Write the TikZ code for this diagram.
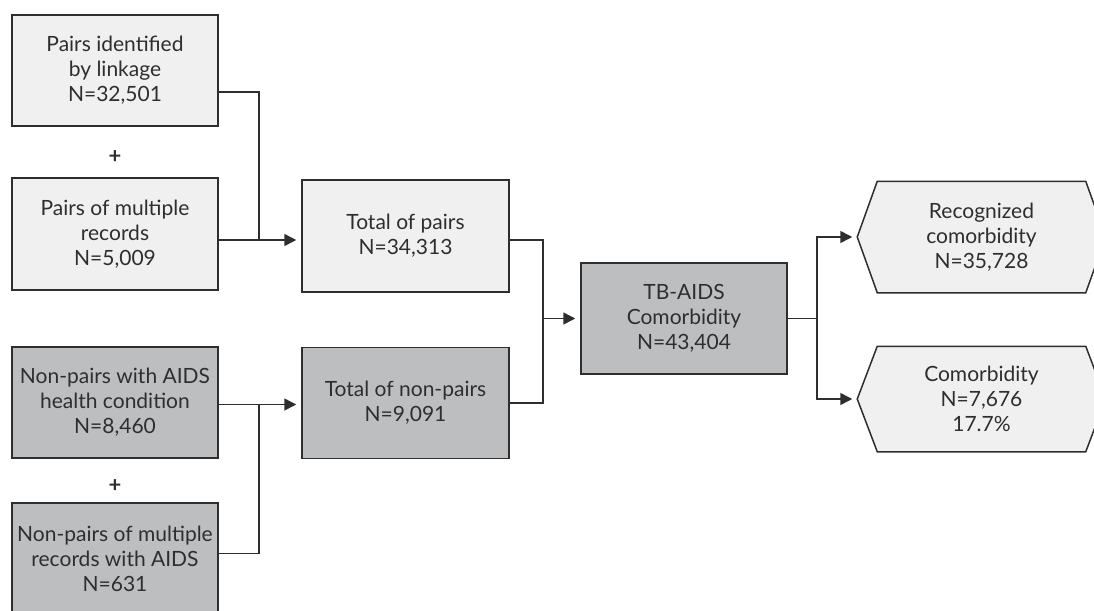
\documentclass[tikz,border=0pt]{standalone}
\usepackage{fontspec}
\setmainfont{Lato}
\usetikzlibrary{arrows.meta, backgrounds}

\definecolor{boxlight}{HTML}{F0F0F0}
\definecolor{boxdark}{HTML}{BDBEC0}
\definecolor{inkgray}{HTML}{2E2E2E}

\tikzset{
  flowbox/.style={draw=inkgray, line width=1.5pt, align=center, text=inkgray,
    minimum width=206pt, minimum height=111pt, inner sep=2pt,
    font=\fontsize{21}{25}\selectfont},
  pairbox/.style={flowbox, fill=boxlight},
  nonpairbox/.style={flowbox, fill=boxdark},
  hexbox/.style={flowbox, draw=none, minimum width=207pt},
  link/.style={draw=inkgray, line width=1.5pt},
  linkarrow/.style={link, -{Triangle[length=12pt, width=12pt]}, shorten >=5pt},
  plus/.style={text=inkgray, font=\fontsize{22}{24}\selectfont\bfseries}
}

\begin{document}
\begin{tikzpicture}[x=1pt, y=-1pt]
\useasboundingbox (0,0) rectangle (1094,610);

% left column
\node[pairbox] (idpairs) at (115,70.5) {Pairs identified\\by linkage\\N=32,501};
\node[plus] (plusa) at (115,157) {+};
\node[pairbox, minimum height=112pt] (multpairs) at (115,234) {Pairs of multiple\\records\\N=5,009};
\node[nonpairbox] (nonpairs) at (115,402.5) {Non-pairs with AIDS\\health condition\\N=8,460};
\node[plus] (plusb) at (115,486) {+};
\node[nonpairbox] (multnonpairs) at (115,558.5) {Non-pairs of multiple\\records with AIDS\\N=631};

% totals
\node[pairbox, minimum width=207pt, minimum height=112pt] (totpairs) at (405.5,236) {Total of pairs\\N=34,313};
\node[nonpairbox, minimum width=207pt] (totnonpairs) at (405.5,403) {Total of non-pairs\\N=9,091};
\node[nonpairbox] (comorb) at (684,318.5) {TB-AIDS\\Comorbidity\\N=43,404};

% results
\node[hexbox, minimum height=110pt] (recog) at (981.5,237) {Recognized\\comorbidity\\N=35,728};
\node[hexbox, minimum height=104pt] (unrec) at (981.5,399) {Comorbidity\\N=7,676\\17.7\%};
\begin{scope}[on background layer]
\filldraw[link, fill=boxlight] (recog.north west) -- (recog.north east) -- ([xshift=20pt]recog.east)
  -- (recog.south east) -- (recog.south west) -- ([xshift=-20pt]recog.west) -- cycle;
\filldraw[link, fill=boxlight] (unrec.north west) -- (unrec.north east) -- ([xshift=20pt]unrec.east)
  -- (unrec.south east) -- (unrec.south west) -- ([xshift=-20pt]unrec.west) -- cycle;
\end{scope}

% pairs
\coordinate (pjoin) at ([yshift=-6pt]multpairs.east);
\draw[link] ([yshift=-21.5pt]idpairs.east) -| ([xshift=40pt]pjoin);
\draw[linkarrow] (pjoin) -- (pjoin -| totpairs.west);

% non-pairs
\coordinate (njoin) at ([yshift=-2pt]nonpairs.east);
\draw[link] ([yshift=5pt]multnonpairs.east) -| ([xshift=40pt]njoin);
\draw[linkarrow] (njoin) -- (njoin -| totnonpairs.west);

% totals to comorbidity
\coordinate (tfork) at ([xshift=33pt]totnonpairs.east);
\draw[link] ([yshift=-4pt]totpairs.east) -| (tfork) -- (totnonpairs.east);
\draw[linkarrow] (tfork |- comorb.west) -- (comorb.west);

% comorbidity to results
\coordinate (cfork) at ([xshift=29pt]comorb.east);
\draw[link] (comorb.east) -- (cfork);
\draw[linkarrow] (cfork) |- ([xshift=-20pt]recog.west);
\draw[linkarrow] (cfork) |- ([xshift=-20pt]unrec.west);
\end{tikzpicture}
\end{document}
